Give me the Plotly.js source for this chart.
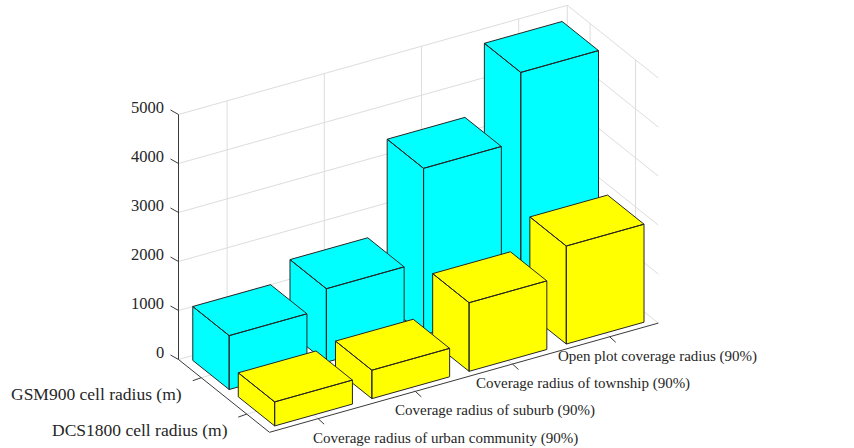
<!DOCTYPE html>
<html>
<head>
<meta charset="utf-8">
<script src="https://cdn.plot.ly/plotly-3.0.1.min.js"></script>
<style>
  html, body { margin: 0; padding: 0; background: #ffffff; }
  #chart { width: 854px; height: 448px; }
</style>
</head>
<body>
<div id="chart"></div>
<script>
// Cell / coverage radius comparison, drawn as 3-D bars in an oblique view.
const categories = [
  'Coverage radius of urban community (90%)',
  'Coverage radius of suburb (90%)',
  'Coverage radius of township (90%)',
  'Open plot coverage radius (90%)'
];
const seriesNames = ['GSM900 cell radius (m)', 'DCS1800 cell radius (m)'];
const gsm900 = [1100, 1500, 3400, 4800];
const dcs1800 = [490, 580, 1400, 2000];
const zTicks = [0, 1000, 2000, 3000, 4000, 5000];

const seriesValues = [gsm900, dcs1800];
const seriesColors = ['#00ffff', '#ffff00'];

// ---- view: oblique orthographic projection of (category, row, value) ----
// the plot area is 854 x 448 units, one unit per pixel
const ORIGIN = [178.5, 359.5];     // (cat 0.5, row 0.5, value 0)
const EX = [97.2, -27.3];          // one category step
const ER = [45.5, 36.4];           // one row step (towards the viewer)
const ZS = 0.049;                  // pixels per value unit
const X_LIM = [0.5, categories.length + 0.5];
const R_LIM = [0.5, seriesNames.length + 0.5];
const Z_LIM = [0, 5000];
const HALF = 0.4;                  // half bar width

function proj(x, r, z) {
  return [
    ORIGIN[0] + (x - X_LIM[0]) * EX[0] + (r - R_LIM[0]) * ER[0],
    ORIGIN[1] + (x - X_LIM[0]) * EX[1] + (r - R_LIM[0]) * ER[1] - z * ZS
  ];
}

function pathTrace(segments, color, width) {
  const x = [], y = [];
  segments.forEach(seg => {
    seg.forEach(p => { const q = proj(p[0], p[1], p[2]); x.push(q[0]); y.push(q[1]); });
    x.push(null); y.push(null);
  });
  return {
    type: 'scatter', mode: 'lines', x, y,
    line: { color, width }, hoverinfo: 'skip', showlegend: false
  };
}

const traces = [];

// grid on the floor, the back wall and the right wall
const grid = [];
for (let c = 1; c <= categories.length; c++) {
  grid.push([[c, R_LIM[0], 0], [c, R_LIM[1], 0]]);
  grid.push([[c, R_LIM[0], Z_LIM[0]], [c, R_LIM[0], Z_LIM[1]]]);
}
for (let r = 1; r <= seriesNames.length; r++) {
  grid.push([[X_LIM[0], r, 0], [X_LIM[1], r, 0]]);
  grid.push([[X_LIM[1], r, Z_LIM[0]], [X_LIM[1], r, Z_LIM[1]]]);
}
grid.push([[X_LIM[1], R_LIM[0], Z_LIM[0]], [X_LIM[1], R_LIM[0], Z_LIM[1]]]);
zTicks.forEach(t => {
  grid.push([[X_LIM[0], R_LIM[0], t], [X_LIM[1], R_LIM[0], t], [X_LIM[1], R_LIM[1], t]]);
});
traces.push(pathTrace(grid, '#dddddd', 1));

// bars, painted from the back row to the front row, far categories first
const rowOrder = [0, 1];
rowOrder.forEach(s => {
  const r = s + 1;
  for (let c = categories.length - 1; c >= 0; c--) {
    const v = seriesValues[s][c];
    const cx = c + 1;
    const x0 = cx - HALF, x1 = cx + HALF, r0 = r - HALF, r1 = r + HALF;
    const faces = [
      [[x0, r0, 0], [x0, r1, 0], [x0, r1, v], [x0, r0, v], [x0, r0, 0]],
      [[x0, r1, 0], [x1, r1, 0], [x1, r1, v], [x0, r1, v], [x0, r1, 0]],
      [[x0, r0, v], [x1, r0, v], [x1, r1, v], [x0, r1, v], [x0, r0, v]]
    ];
    const t = pathTrace(faces, '#262626', 1);
    t.fill = 'toself';
    t.fillcolor = seriesColors[s];
    t.line.shape = 'linear';
    traces.push(t);
  }
});

// axis lines and tick marks
const axisColor = '#3a3a3a';
const axes = [
  [[X_LIM[0], R_LIM[0], Z_LIM[0]], [X_LIM[0], R_LIM[0], Z_LIM[1]]],
  [[X_LIM[0], R_LIM[0], 0], [X_LIM[0], R_LIM[1], 0]],
  [[X_LIM[0], R_LIM[1], 0], [X_LIM[1], R_LIM[1], 0]]
];
traces.push(pathTrace(axes, axisColor, 1));

const tickX = [], tickY = [];
function tick(p, d) {
  tickX.push(p[0], p[0] + d[0], null);
  tickY.push(p[1], p[1] + d[1], null);
}
zTicks.forEach(t => tick(proj(X_LIM[0], R_LIM[0], t), [-8, -4.5]));
seriesNames.forEach((n, s) => tick(proj(X_LIM[0], s + 1, 0), [-8.5, 3]));
categories.forEach((n, c) => tick(proj(c + 1, R_LIM[1], 0), [6, 5.5]));
traces.push({
  type: 'scatter', mode: 'lines', x: tickX, y: tickY,
  line: { color: axisColor, width: 1 }, hoverinfo: 'skip', showlegend: false
});

// tick labels
const textColor = '#262626';
const serif = 'Liberation Serif, Times New Roman, serif';
const annotations = [];
zTicks.forEach(t => {
  const p = proj(X_LIM[0], R_LIM[0], t);
  annotations.push({
    x: p[0] - 12.5, y: p[1] - 7.5, xref: 'x', yref: 'y', text: String(t),
    showarrow: false, xanchor: 'right', yanchor: 'middle',
    font: { family: serif, size: 16.5, color: textColor }
  });
});
seriesNames.forEach((name, s) => {
  const p = proj(X_LIM[0], s + 1, 0);
  annotations.push({
    x: p[0] - 17, y: p[1] + 16, xref: 'x', yref: 'y', text: name,
    showarrow: false, xanchor: 'right', yanchor: 'middle',
    font: { family: serif, size: 17.5, color: textColor }
  });
});
categories.forEach((name, c) => {
  const p = proj(c + 1, R_LIM[1], 0);
  annotations.push({
    x: p[0] - 7 - 15.7 * c, y: p[1] + 19.5, xref: 'x', yref: 'y', text: name,
    showarrow: false, xanchor: 'left', yanchor: 'middle',
    font: { family: serif, size: 15, color: textColor }
  });
});

const layout = {
  width: 854, height: 448,
  margin: { l: 0, r: 0, t: 0, b: 0, pad: 0 },
  paper_bgcolor: '#ffffff', plot_bgcolor: '#ffffff',
  showlegend: false,
  xaxis: { range: [0, 854], visible: false, fixedrange: true },
  yaxis: { range: [448, 0], visible: false, fixedrange: true },
  annotations
};

Plotly.newPlot('chart', traces, layout, { displayModeBar: false, staticPlot: true });
</script>
</body>
</html>
